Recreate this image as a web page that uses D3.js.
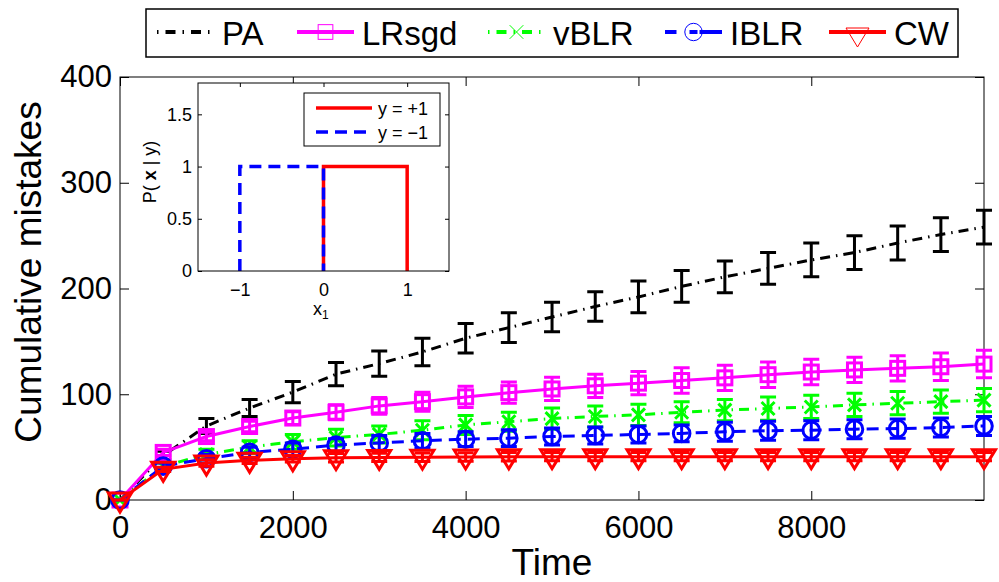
<!DOCTYPE html>
<html>
<head>
<meta charset="utf-8">
<script src="https://cdn.jsdelivr.net/npm/d3@7"></script>
<style>
  html, body { margin: 0; padding: 0; background: #fff; }
  svg { display: block; font-family: "Liberation Sans", Arial, Helvetica, sans-serif; }
</style>
</head>
<body>
<svg id="chart" width="999" height="582"></svg>
<script>
// Sample times (number of rounds seen)
const times = [0, 500, 1000, 1500, 2000, 2500, 3000, 3500, 4000, 4500, 5000,
               5500, 6000, 6500, 7000, 7500, 8000, 8500, 9000, 9500, 9999];

// Mean cumulative mistakes per method and their error-bar half widths
const paMean   = [0, 42, 70, 87, 102, 119, 129, 140, 153, 163, 173, 183, 192, 202, 211, 219, 227, 234, 243, 251, 258];
const paErr    = [0, 4, 7, 8, 10, 11, 12, 13, 14, 14, 14, 14, 15, 15, 15, 15, 16, 16, 16, 16, 16];
const lrMean   = [0, 45, 60, 69.5, 77.5, 83, 89, 93, 97.5, 101.5, 105, 108, 110.5, 113, 115.5, 118.5, 121, 123, 124.5, 126, 128.5];
const lrErr    = [0, 3, 4, 5, 6, 7, 8, 9, 10, 10, 11, 11, 11, 12, 12, 12, 12, 12, 12, 13, 13];
const vblrMean = [0, 32, 43, 50, 55, 59, 62, 66, 71, 74, 77, 79, 80.5, 83, 85, 86.5, 88, 90, 91.5, 93, 94.5];
const vblrErr  = [0, 3, 5, 6, 7, 8, 8, 9, 9, 9, 10, 10, 10, 10, 10, 11, 11, 11, 11, 11, 11];
const iblrMean = [0, 32, 39, 45, 48, 52, 54, 56, 57.5, 58.5, 60, 61, 62, 63, 64.5, 65.5, 66, 67, 67.5, 68.5, 70];
const iblrErr  = [0, 3, 4, 5, 6, 6, 7, 7, 7, 8, 8, 8, 8, 8, 9, 9, 9, 9, 9, 9, 9];
const cwMean   = [0, 29, 35, 37.5, 39, 40, 40.3, 40.5, 40.7, 40.8, 41, 41, 41, 41, 41, 41, 41, 41, 41, 41, 41];
const cwErr    = [0, 2, 3, 3, 3, 4, 4, 4, 4, 4, 4, 4, 4, 4, 4, 4, 4, 4, 4, 4, 4];

const seriesNames = ["PA", "LRsgd", "vBLR", "IBLR", "CW"];

// Main axis ticks
const xTicks = [0, 2000, 4000, 6000, 8000];
const yTicks = [0, 100, 200, 300, 400];

// Inset: class-conditional densities of x1
const insetPosX = [0, 0, 1, 1];
const insetPosY = [0, 1, 1, 0];
const insetNegX = [-1, -1, 0, 0];
const insetNegY = [0, 1, 1, 0];
const insetXTicks = [-1, 0, 1];
const insetYTicks = [0, 0.5, 1, 1.5];
const insetLegend = ["y = +1", "y = \u22121"];

const FONT = '"Liberation Sans", Arial, Helvetica, sans-serif';
const svg = d3.select("#chart");
svg.append("rect").attr("width", 999).attr("height", 582).attr("fill", "#fff");

// ---------- main axes ----------
const X0 = 120, X1 = 984, Y0 = 500, Y1 = 77;
const x = d3.scaleLinear().domain([0, 9999]).range([X0, X1]);
const y = d3.scaleLinear().domain([0, 400]).range([Y0, Y1]);

function styleAxis(g, fs) {
  g.select(".domain").remove();
  g.selectAll(".tick line").attr("stroke", "#000").attr("stroke-width", 1);
  g.selectAll(".tick text").attr("fill", "#000").attr("font-size", fs).attr("font-family", FONT);
}

svg.append("g").attr("transform", `translate(0,${Y0})`)
  .call(d3.axisBottom(x).tickValues(xTicks).tickFormat(d3.format("d")).tickSizeInner(-9).tickSizeOuter(0).tickPadding(16))
  .call(g => styleAxis(g, 31));
svg.append("g").attr("transform", `translate(0,${Y1})`)
  .call(d3.axisTop(x).tickValues(xTicks).tickFormat("").tickSizeInner(-9).tickSizeOuter(0))
  .call(g => styleAxis(g, 31));
svg.append("g").attr("transform", `translate(${X0},0)`)
  .call(d3.axisLeft(y).tickValues(yTicks).tickFormat(d3.format("d")).tickSizeInner(-9).tickSizeOuter(0).tickPadding(8))
  .call(g => styleAxis(g, 31));
svg.append("g").attr("transform", `translate(${X1},0)`)
  .call(d3.axisRight(y).tickValues(yTicks).tickFormat("").tickSizeInner(-9).tickSizeOuter(0))
  .call(g => styleAxis(g, 31));
svg.append("rect").attr("x", X0).attr("y", Y1).attr("width", X1 - X0).attr("height", Y0 - Y1)
  .attr("fill", "none").attr("stroke", "#000").attr("stroke-width", 1);

svg.append("text").attr("x", (X0 + X1) / 2).attr("y", 575).attr("text-anchor", "middle")
  .attr("font-size", 37).attr("font-family", FONT).text("Time");
svg.append("text").attr("transform", "translate(41,272) rotate(-90)").attr("text-anchor", "middle")
  .attr("font-size", 37).attr("font-family", FONT).text("Cumulative mistakes");

// ---------- series ----------
const DASHDOT = "10,6,1.5,6";
const DASHED = "12,7";
const series = [
  { name: seriesNames[0], mean: paMean,   err: paErr,   color: "#000000", dash: DASHDOT, marker: "none" },
  { name: seriesNames[1], mean: lrMean,   err: lrErr,   color: "#ff00ff", dash: null,    marker: "square" },
  { name: seriesNames[2], mean: vblrMean, err: vblrErr, color: "#00ff00", dash: DASHDOT, marker: "cross" },
  { name: seriesNames[3], mean: iblrMean, err: iblrErr, color: "#0000ff", dash: DASHED,  marker: "circle" },
  { name: seriesNames[4], mean: cwMean,   err: cwErr,   color: "#ff0000", dash: null,    marker: "triangle" }
];

function drawMarker(g, type, cx, cy, color, sw, s) {
  if (type === "square") {
    g.append("rect").attr("x", cx - 7 * s).attr("y", cy - 7 * s).attr("width", 14 * s).attr("height", 14 * s)
      .attr("fill", "none").attr("stroke", color).attr("stroke-width", sw);
  } else if (type === "cross") {
    const h = 6.5 * s;
    g.append("path").attr("d", `M${cx - h},${cy - h}L${cx + h},${cy + h}M${cx - h},${cy + h}L${cx + h},${cy - h}`)
      .attr("fill", "none").attr("stroke", color).attr("stroke-width", sw);
  } else if (type === "circle") {
    g.append("circle").attr("cx", cx).attr("cy", cy).attr("r", 8.3 * s)
      .attr("fill", "none").attr("stroke", color).attr("stroke-width", sw);
  } else if (type === "triangle") {
    const w = 11.5 * s;
    g.append("path").attr("d", `M${cx - w},${cy - 7 * s}L${cx + w},${cy - 7 * s}L${cx},${cy + 12 * s}Z`)
      .attr("fill", "none").attr("stroke", color).attr("stroke-width", sw).attr("stroke-linejoin", "miter");
  }
}

const line = d3.line().x(d => x(d.t)).y(d => y(d.v));
const CAP = 8;
series.forEach(s => {
  const pts = times.map((t, i) => ({ t, v: s.mean[i], e: s.err[i] }));
  const g = svg.append("g");
  g.append("path").datum(pts).attr("d", line).attr("fill", "none")
    .attr("stroke", s.color).attr("stroke-width", 3)
    .attr("stroke-dasharray", s.dash);
  // error bars with caps
  pts.forEach(p => {
    const px = x(p.t), top = y(p.v + p.e), bot = y(p.v - p.e);
    g.append("path")
      .attr("d", `M${px},${top}L${px},${bot}M${px - CAP},${top}L${px + CAP},${top}M${px - CAP},${bot}L${px + CAP},${bot}`)
      .attr("fill", "none").attr("stroke", s.color).attr("stroke-width", 3);
  });
  pts.forEach(p => drawMarker(g, s.marker, x(p.t), y(p.v), s.color, 3, 1));
});

// ---------- legend ----------
const lg = svg.append("g");
lg.append("rect").attr("x", 146).attr("y", 9).attr("width", 812).attr("height", 48)
  .attr("fill", "#fff").attr("stroke", "#000").attr("stroke-width", 1.5);
const legendLineX = [157, 297, 488, 665, 829];
const LEG_LEN = 57, LEG_Y = 32;
series.forEach((s, i) => {
  const lx = legendLineX[i];
  lg.append("line").attr("x1", lx).attr("x2", lx + LEG_LEN).attr("y1", LEG_Y).attr("y2", LEG_Y)
    .attr("stroke", s.color).attr("stroke-width", 4)
    .attr("stroke-dasharray", s.dash === DASHDOT ? "1.5,7,10,7" : (s.dash === DASHED ? "11.5,23" : null));
  if (s.dash === DASHED) {
    lg.append("line").attr("x1", lx + LEG_LEN - 11.5).attr("x2", lx + LEG_LEN).attr("y1", LEG_Y).attr("y2", LEG_Y)
      .attr("stroke", s.color).attr("stroke-width", 4);
  }
  if (s.marker === "circle") {
    lg.append("line").attr("x1", lx + LEG_LEN / 2 - 4).attr("x2", lx + LEG_LEN / 2 + 4).attr("y1", LEG_Y).attr("y2", LEG_Y)
      .attr("stroke", s.color).attr("stroke-width", 4);
  }
  drawMarker(lg, s.marker, lx + LEG_LEN / 2, LEG_Y + (s.marker === "triangle" ? 3 : 0), s.color, 1, s.marker === "triangle" ? 1 : 1.05);
  lg.append("text").attr("x", lx + LEG_LEN + 8).attr("y", 44.5).attr("font-size", 33)
    .attr("font-family", FONT).text(s.name);
});

// ---------- inset ----------
const IX0 = 198, IX1 = 449, IY0 = 271, IY1 = 83;
const ix = d3.scaleLinear().domain([-1.5, 1.5]).range([IX0, IX1]);
const iy = d3.scaleLinear().domain([0, 1.8]).range([IY0, IY1]);
const inset = svg.append("g");
inset.append("rect").attr("x", IX0).attr("y", IY1).attr("width", IX1 - IX0).attr("height", IY0 - IY1)
  .attr("fill", "#fff");
inset.append("g").attr("transform", `translate(0,${IY0})`)
  .call(d3.axisBottom(ix).tickValues(insetXTicks).tickFormat(d => d < 0 ? "\u2212" + Math.abs(d) : d).tickSizeInner(-4).tickSizeOuter(0).tickPadding(12))
  .call(g => styleAxis(g, 18));
inset.append("g").attr("transform", `translate(0,${IY1})`)
  .call(d3.axisTop(ix).tickValues(insetXTicks).tickFormat("").tickSizeInner(-4).tickSizeOuter(0))
  .call(g => styleAxis(g, 18));
inset.append("g").attr("transform", `translate(${IX0},0)`)
  .call(d3.axisLeft(iy).tickValues(insetYTicks).tickFormat(d => d).tickSizeInner(-4).tickSizeOuter(0).tickPadding(6))
  .call(g => styleAxis(g, 18));
inset.append("g").attr("transform", `translate(${IX1},0)`)
  .call(d3.axisRight(iy).tickValues(insetYTicks).tickFormat("").tickSizeInner(-4).tickSizeOuter(0))
  .call(g => styleAxis(g, 18));

const iline = d3.line().x(d => ix(d[0])).y(d => iy(d[1]));
inset.append("path").datum(insetPosX.map((v, i) => [v, insetPosY[i]])).attr("d", iline)
  .attr("fill", "none").attr("stroke", "#ff0000").attr("stroke-width", 3.5);
inset.append("path").datum(insetNegX.map((v, i) => [v, insetNegY[i]])).attr("d", iline)
  .attr("fill", "none").attr("stroke", "#0000ff").attr("stroke-width", 3.5).attr("stroke-dasharray", "12,7");

inset.append("rect").attr("x", IX0).attr("y", IY1).attr("width", IX1 - IX0).attr("height", IY0 - IY1)
  .attr("fill", "none").attr("stroke", "#000").attr("stroke-width", 1);

// inset legend
inset.append("rect").attr("x", 304).attr("y", 93).attr("width", 136).attr("height", 53)
  .attr("fill", "#fff").attr("stroke", "#000").attr("stroke-width", 1);
const insetLegColors = ["#ff0000", "#0000ff"];
const insetLegDash = [null, "12,7"];
[108, 132].forEach((ly, i) => {
  inset.append("line").attr("x1", 316).attr("x2", 372).attr("y1", ly).attr("y2", ly)
    .attr("stroke", insetLegColors[i]).attr("stroke-width", 3.5).attr("stroke-dasharray", insetLegDash[i]);
  inset.append("text").attr("x", 378).attr("y", ly + 6.5).attr("font-size", 18).attr("font-family", FONT)
    .text(insetLegend[i]);
});

// inset axis labels
const xl = inset.append("text").attr("x", 313).attr("y", 315).attr("font-size", 18).attr("font-family", FONT);
xl.append("tspan").text("x");
xl.append("tspan").attr("font-size", 12).attr("dy", 4).text("1");
const yl = inset.append("text").attr("transform", "translate(156,172) rotate(-90)")
  .attr("text-anchor", "middle").attr("font-size", 18).attr("font-family", FONT);
yl.append("tspan").text("P( ");
yl.append("tspan").attr("font-weight", "bold").text("x");
yl.append("tspan").text(" | y)");
</script>
</body>
</html>
